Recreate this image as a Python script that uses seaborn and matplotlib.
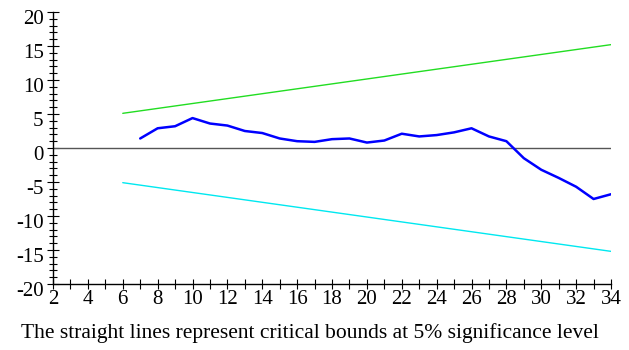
import matplotlib
matplotlib.use("Agg")
import matplotlib.pyplot as plt
import matplotlib.transforms as mtransforms
import seaborn as sns
import pandas as pd
from matplotlib.ticker import MultipleLocator

# Data
cusum_x = list(range(7, 35))
cusum_y = [1.4, 2.9, 3.2, 4.4, 3.6, 3.3, 2.5, 2.2, 1.4, 1.0, 0.9, 1.3, 1.4,
           0.8, 1.1, 2.1, 1.7, 1.9, 2.3, 2.9, 1.7, 1.0, -1.5, -3.2, -4.4,
           -5.7, -7.5, -6.8]
bound_x = [6, 34]
upper_bound = [5.1, 15.2]
lower_bound = [-5.1, -15.2]
zero_x = [2, 34]
zero_y = [0, 0]
caption = "The straight lines represent critical bounds at 5% significance level"

sns.set_style("white")
plt.rcParams['font.family'] = ['Liberation Serif', 'DejaVu Serif']
plt.rcParams['axes.unicode_minus'] = False

fig = plt.figure(figsize=(6.29, 3.5), dpi=100)
ax = fig.add_axes([0.0843, 0.1886, 0.8871, 0.7771])

sns.lineplot(x=zero_x, y=zero_y, ax=ax, color="#555555", linewidth=1.0)
sns.lineplot(x=bound_x, y=upper_bound, ax=ax, color="#22dd22", linewidth=1.0)
sns.lineplot(x=bound_x, y=lower_bound, ax=ax, color="#00e8f0", linewidth=1.0)
sns.lineplot(x=cusum_x, y=cusum_y, ax=ax, color="#0000ff", linewidth=1.8)

ax.set_xlim(2, 34)
ax.set_ylim(-20, 20)
ax.xaxis.set_major_locator(MultipleLocator(2))
ax.xaxis.set_minor_locator(MultipleLocator(1))
ax.yaxis.set_major_locator(MultipleLocator(5))
ax.yaxis.set_minor_locator(MultipleLocator(1))

for s in ["top", "right"]:
    ax.spines[s].set_visible(False)
for s in ["left", "bottom"]:
    ax.spines[s].set_color("black")
    ax.spines[s].set_linewidth(1.0)

ax.tick_params(axis="x", which="both", bottom=True, top=False)
ax.tick_params(axis="y", which="both", left=True, right=False)
ax.tick_params(axis="x", which="major", direction="inout", length=7.2, width=0.8,
               labelsize=15, pad=1, colors="black")
ax.tick_params(axis="x", which="minor", direction="inout", length=7.2, width=0.8,
               colors="black")
ax.tick_params(axis="y", which="major", direction="inout", length=8.6, width=0.8,
               labelsize=15, pad=2.5, colors="black")
ax.tick_params(axis="y", which="minor", direction="inout", length=5.8, width=0.8,
               colors="black")
ax.set_xlabel("")
ax.set_ylabel("")

fig.canvas.draw()
shift = mtransforms.ScaledTranslation(0, -5 / 100, fig.dpi_scale_trans)
for tick in ax.yaxis.get_major_ticks():
    tick.label1.set_transform(tick.label1.get_transform() + shift)

fig.text(0.033, 0.035, caption, fontsize=15.5, ha="left", va="baseline", color="black")

fig.savefig("out.png", dpi=100)
